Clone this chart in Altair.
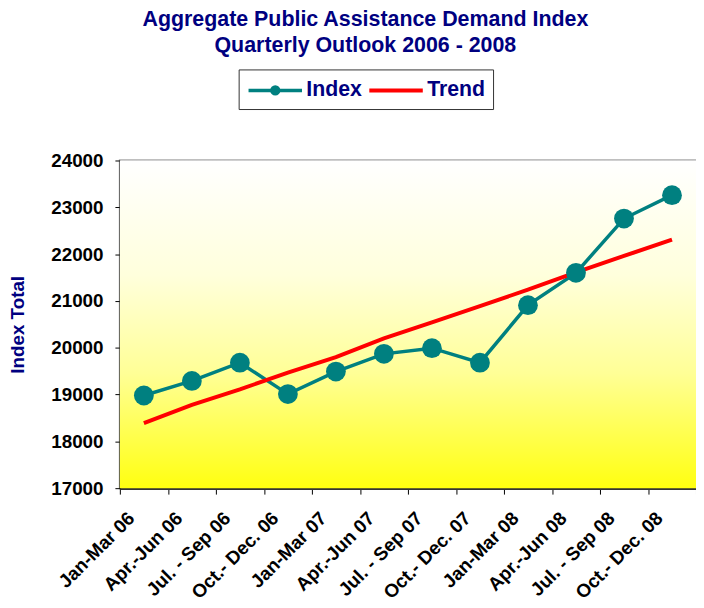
import altair as alt
import pandas as pd

quarters = [
    "Jan-Mar 06", "Apr.-Jun 06", "Jul. - Sep 06", "Oct.- Dec. 06",
    "Jan-Mar 07", "Apr.-Jun 07", "Jul. - Sep 07", "Oct.- Dec. 07",
    "Jan-Mar 08", "Apr.-Jun 08", "Jul. - Sep 08", "Oct.- Dec. 08",
]
index_values = [18980, 19290, 19680, 19010, 19490, 19870, 19990, 19680, 20910, 21600, 22760, 23260]
trend_values = [18390, 18780, 19110, 19470, 19800, 20200, 20540, 20890, 21240, 21610, 21960, 22310]
series_names = ["Index", "Trend"]
series_colors = ["#008080", "#FF0000"]
y_ticks = [17000, 18000, 19000, 20000, 21000, 22000, 23000, 24000]
title_lines = ["Aggregate Public Assistance Demand Index", "Quarterly Outlook 2006 - 2008"]
y_title = "Index Total"

df = pd.DataFrame({
    "quarter": quarters + quarters,
    "value": index_values + trend_values,
    "series": ["Index"] * len(quarters) + ["Trend"] * len(quarters),
})

W, H = 582, 331
FONT = "Liberation Sans"
NAVY = "#000080"

PATH_INDEX = "M-2.5,0H2.5M-0.32,0A0.32,0.32 0 1,0 0.32,0A0.32,0.32 0 1,0 -0.32,0Z"
PATH_TREND = "M-2.5,0H2.5"

x_enc = alt.X(
    "quarter:N", sort=quarters,
    scale=alt.Scale(type="band", paddingInner=0, paddingOuter=0),
    axis=alt.Axis(
        title=None, tickBand="extent", labelAngle=-45, labelAlign="right",
        labelBaseline="middle", labelOffset=-13, labelPadding=21,
        labelFont=FONT, labelFontSize=19, labelFontWeight="bold", labelColor="#000000",
        grid=True, gridColor="#C0C0C0", gridWidth=1,
        domainColor="#333333", domainWidth=2.5, tickColor="#000000", tickSize=6,
        labelOverlap=False,
    ),
)
y_enc = alt.Y(
    "value:Q",
    scale=alt.Scale(domain=[17000, 24000], nice=False, zero=False),
    axis=alt.Axis(
        values=y_ticks, format="d", title=y_title,
        titleFont=FONT, titleFontSize=19, titleFontWeight="bold", titleColor=NAVY,
        titlePadding=23,
        labelFont=FONT, labelFontSize=19, labelFontWeight="bold", labelColor="#000000",
        labelPadding=12, tickSize=5, tickColor="#000000",
        domainColor="#000000", domainWidth=1.5,
        grid=True, gridColor="#C0C0C0", gridWidth=1,
    ),
)

gradient = {
    "gradient": "linear", "x1": 0, "x2": 0, "y1": 0, "y2": 1,
    "stops": [
        {"offset": 0, "color": "#FFFFFF"},
        {"offset": 0.35, "color": "#FFFFDC"},
        {"offset": 0.65, "color": "#FFFF96"},
        {"offset": 1, "color": "#FFFF10"},
    ],
}

bg = alt.Chart(pd.DataFrame({"k": [0]})).mark_rect(fill=gradient).encode(
    x=alt.value(0), x2=alt.value(W), y=alt.value(0), y2=alt.value(H)
)

legend = alt.Legend(
    orient="none", legendX=120, legendY=-92, direction="horizontal",
    padding=8, strokeColor="#333333", fillColor="#FFFFFF",
    labelFont=FONT, labelFontSize=21.5, labelFontWeight="bold", labelColor=NAVY,
    labelOffset=18.4, columnPadding=-2, symbolSize=467, symbolStrokeWidth=4,
    symbolOffset=16,
    symbolType=alt.ExprRef(expr=f"datum.value === 'Index' ? '{PATH_INDEX}' : '{PATH_TREND}'"),
    symbolFillColor=alt.ExprRef(expr="datum.value === 'Index' ? '#008080' : 'transparent'"),
)

lines = alt.Chart(df).mark_line().encode(
    x=x_enc, y=y_enc,
    color=alt.Color("series:N", scale=alt.Scale(domain=series_names, range=series_colors),
                    title=None, legend=legend),
    strokeWidth=alt.StrokeWidth("series:N", scale=alt.Scale(domain=series_names, range=[3.5, 4]), legend=None),
)

points = alt.Chart(df).transform_filter("datum.series === 'Index'").mark_point(
    filled=True, size=400, opacity=1, color="#008080"
).encode(x=x_enc, y=y_enc)

chart = alt.layer(bg, lines, points).properties(
    width=W, height=H,
    title=alt.TitleParams(
        text=title_lines, font=FONT, fontSize=21.6, fontWeight="bold", color=NAVY,
        anchor="middle", dx=-43, offset=13, lineHeight=26,
    ),
    padding={"left": 113, "top": 151, "right": 0, "bottom": 118},
    autosize=alt.AutoSizeParams(type="none"),
).configure_view(stroke="#808080", strokeWidth=2)

chart.save("out.html", embed_options={"renderer": "svg", "actions": False})
